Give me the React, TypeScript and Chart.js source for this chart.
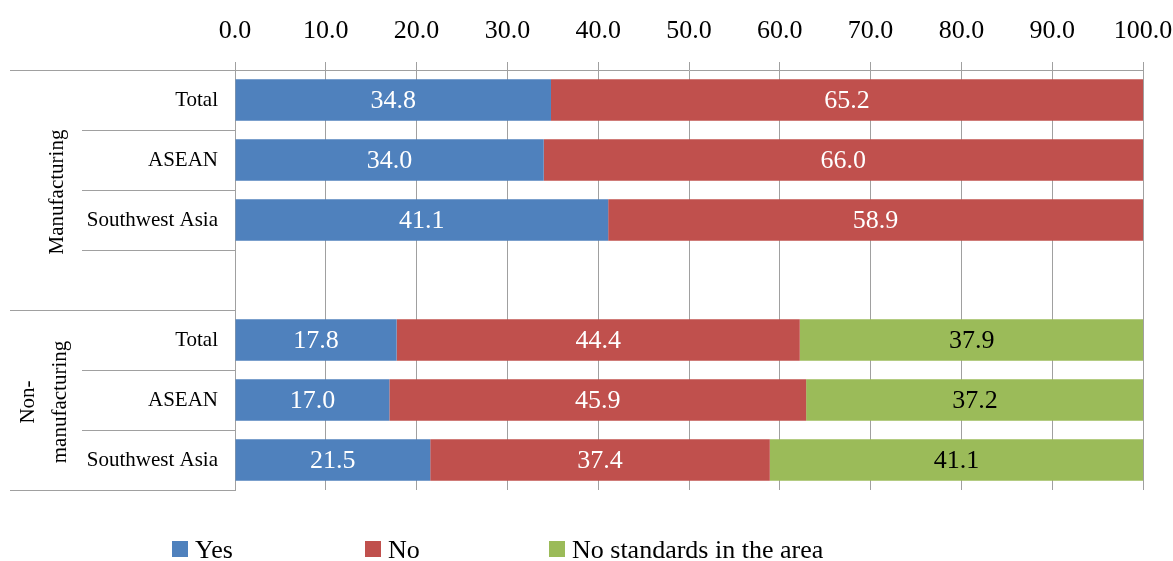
import React, { useEffect, useRef } from "react";
import { Chart, registerables } from "chart.js";

Chart.register(...registerables);

const categories = ["Total", "ASEAN", "Southwest Asia", "", "Total", "ASEAN", "Southwest Asia"];
const groups = [
  { lines: ["Manufacturing"], from: 0, to: 3 },
  { lines: ["Non-", "manufacturing"], from: 4, to: 6 },
];
const yesValues = [34.8, 34.0, 41.1, null, 17.8, 17.0, 21.5];
const noValues = [65.2, 66.0, 58.9, null, 44.4, 45.9, 37.4];
const noStdValues = [null, null, null, null, 37.9, 37.2, 41.1];
const seriesNames = ["Yes", "No", "No standards in the area"];
const seriesColors = ["#4F81BD", "#C0504D", "#9BBB59"];
const labelColors = ["#FFFFFF", "#FFFFFF", "#000000"];

const FONT = "'Liberation Serif', 'Times New Roman', serif";
const GRID = "#A0A0A0";

const overlayPlugin = {
  id: "overlay",
  afterDatasetsDraw(chart: any) {
    const ctx = chart.ctx;
    ctx.save();
    ctx.font = `26px ${FONT}`;
    ctx.textAlign = "center";
    ctx.textBaseline = "middle";
    chart.data.datasets.forEach((ds: any, di: number) => {
      const meta = chart.getDatasetMeta(di);
      meta.data.forEach((el: any, i: number) => {
        const v = ds.data[i];
        if (v === null || v === undefined) return;
        const x = (el.x + el.base) / 2;
        ctx.fillStyle = labelColors[di];
        ctx.fillText(v.toFixed(1), x, el.y + 1);
      });
    });
    ctx.restore();
  },
  afterDraw(chart: any) {
    const ctx = chart.ctx;
    const y = chart.scales.y;
    const area = chart.chartArea;
    const n = categories.length;
    const step = (area.bottom - area.top) / n;
    ctx.save();
    ctx.strokeStyle = GRID;
    ctx.lineWidth = 1;
    const hline = (x0: number, x1: number, yy: number) => {
      ctx.beginPath();
      ctx.moveTo(x0, Math.round(yy) + 0.5);
      ctx.lineTo(x1, Math.round(yy) + 0.5);
      ctx.stroke();
    };
    hline(10, area.left, area.top);
    for (let i = 0; i < n; i++) {
      const b = y.getPixelForValue(i) + step / 2;
      const isGroupEnd = groups.some((g) => g.to === i);
      hline(isGroupEnd ? 10 : 82, area.left, b);
    }
    ctx.fillStyle = "#000";
    ctx.font = `21px ${FONT}`;
    ctx.textAlign = "center";
    ctx.textBaseline = "middle";
    groups.forEach((g) => {
      const top = y.getPixelForValue(g.from) - step / 2;
      const bot = y.getPixelForValue(g.to) + step / 2;
      const cy = (top + bot) / 2 + 2;
      const lineGap = 32;
      const centerX = g.lines.length > 1 ? 44 : 57;
      const cx0 = centerX - ((g.lines.length - 1) * lineGap) / 2;
      g.lines.forEach((ln, li) => {
        ctx.save();
        ctx.translate(cx0 + li * lineGap, cy);
        ctx.rotate(-Math.PI / 2);
        ctx.fillText(ln, 0, 0);
        ctx.restore();
      });
    });
    const legendX = [172, 365, 549];
    ctx.font = `26px ${FONT}`;
    ctx.textAlign = "left";
    ctx.textBaseline = "alphabetic";
    seriesNames.forEach((name, i) => {
      ctx.fillStyle = seriesColors[i];
      ctx.fillRect(legendX[i], 541, 16, 16);
      ctx.fillStyle = "#000";
      ctx.fillText(name, legendX[i] + 23, 558);
    });
    ctx.restore();
  },
};

export default function App() {
  const ref = useRef<HTMLCanvasElement>(null);
  useEffect(() => {
    if (!ref.current) return;
    const chart = new Chart(ref.current, {
      type: "bar",
      data: {
        labels: categories,
        datasets: [yesValues, noValues, noStdValues].map((d, i) => ({
          label: seriesNames[i],
          data: d as any,
          backgroundColor: seriesColors[i],
          borderWidth: 0,
          barPercentage: 0.69,
          categoryPercentage: 1,
        })),
      },
      options: {
        indexAxis: "y",
        responsive: false,
        animation: false,
        layout: { padding: { left: 0, right: 30, top: 0, bottom: 71 } },
        plugins: { legend: { display: false }, tooltip: { enabled: false } },
        scales: {
          x: {
            position: "top",
            stacked: true,
            min: 0,
            max: 100,
            grid: { color: GRID, lineWidth: 1, tickLength: 8, drawTicks: true },
            border: { display: true, color: GRID, width: 1 },
            ticks: {
              stepSize: 10,
              padding: 15,
              color: "#000",
              font: { family: FONT, size: 26 },
              maxRotation: 0,
              callback: (v: any) => Number(v).toFixed(1),
            },
            afterFit: (s: any) => {
              s.height = 70;
              s.paddingLeft = 0;
              s.paddingRight = 0;
            },
          },
          y: {
            stacked: true,
            grid: { display: false, drawTicks: false },
            border: { display: true, color: GRID, width: 1 },
            ticks: {
              padding: 17,
              color: "#000",
              font: { family: FONT, size: 21 },
              autoSkip: false,
            },
            afterFit: (s: any) => {
              s.width = 235;
              s.paddingTop = 0;
              s.paddingBottom = 0;
            },
          },
        },
      },
      plugins: [overlayPlugin],
    });
    return () => chart.destroy();
  }, []);
  return (
    <div style={{ position: "fixed", left: 0, top: 0, width: 1173, height: 561, background: "#fff" }}>
      <canvas ref={ref} width={1173} height={561} />
    </div>
  );
}
